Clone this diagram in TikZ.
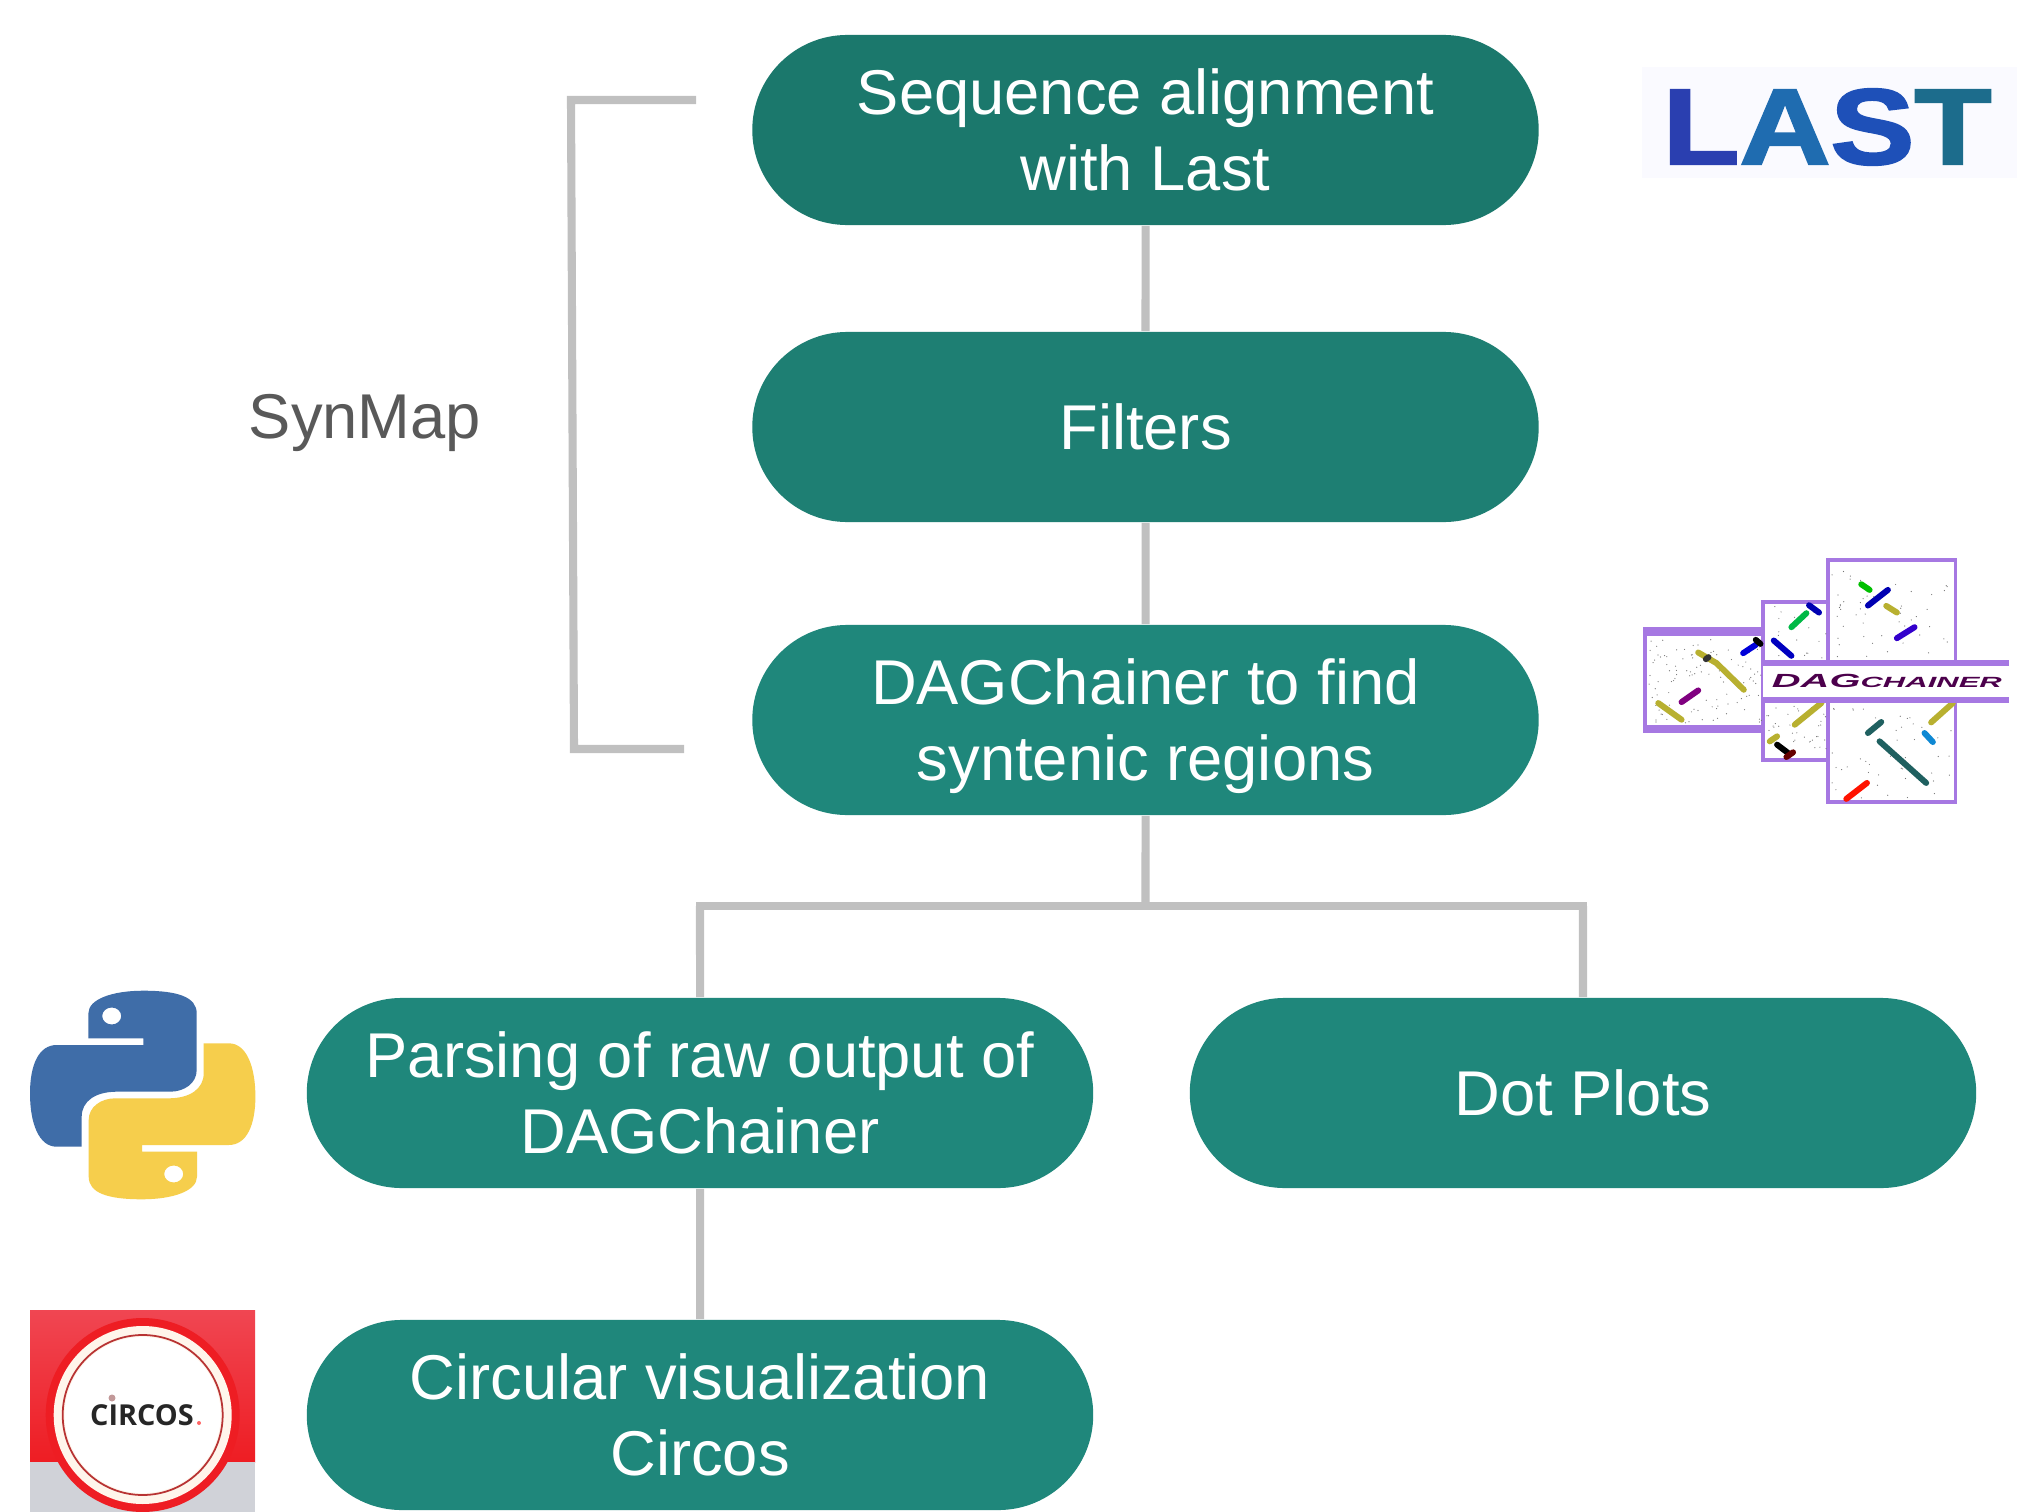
\documentclass[tikz,border=0pt]{standalone}
\usepackage{fontspec}
\setmainfont{Liberation Sans}
\newfontfamily\circosfont{Open Sans}
\newfontfamily\lastfont{Liberation Sans}[BoldFeatures={FakeBold=2}]
\usetikzlibrary{shapes.misc}
\definecolor{boxa}{HTML}{1B786C}
\definecolor{boxb}{HTML}{1E7F73}
\definecolor{boxc}{HTML}{1F877B}
\definecolor{linkgray}{HTML}{C0C0C0}
\definecolor{labelgray}{HTML}{595959}
\definecolor{dagframe}{HTML}{A678E2}
\definecolor{dagolive}{HTML}{B8B030}
\definecolor{dagteal}{HTML}{1F6060}
\definecolor{pyblue}{HTML}{3F6DA8}
\definecolor{pyyellow}{HTML}{F6CE4C}
\definecolor{circred}{HTML}{EE1D23}
\definecolor{circtop}{HTML}{F04652}
\definecolor{circgray}{HTML}{D0D2D8}
\tikzset{stepbox/.style={rounded rectangle,fill=#1,text=white,minimum width=7.86cm,minimum height=1.9cm,inner sep=0pt,align=center,font=\fontsize{18}{21.6}\selectfont}}
\tikzset{link/.style={draw=linkgray,line width=2.3pt}}
\tikzset{dagbox/.style={fill=white,draw=dagframe,line width=1.1pt}}
\tikzset{dagband/.style={fill=dagframe}}
\tikzset{dagdash/.style={line width=1.7pt,line cap=round}}
\begin{document}
\begin{tikzpicture}[x=.01cm,y=-.01cm]
      \useasboundingbox[fill=white] (0,0) rectangle (2017,1512);
      \node[stepbox=boxa] (last) at (1145.5,130) {Sequence alignment\\with Last};
      \node[stepbox=boxb] (filters) at (1145.5,427) {Filters};
      \node[stepbox=boxc] (dag) at (1145.5,720) {DAGChainer to find\\\raisebox{0pt}[\height][0pt]{syntenic regions}};
      \node[stepbox=boxc] (parse) at (700,1093) {Parsing of raw output of\\DAGChainer};
      \node[stepbox=boxc] (dots) at (1583,1093) {Dot Plots};
      \node[stepbox=boxc] (circ) at (700,1415) {Circular visualization\\Circos};
      \node[text=labelgray,text depth=0pt,font=\fontsize{18}{21.6}\selectfont] (synmap) at (365,416) {SynMap};
      \coordinate (fork) at (1145.5,906);
      \coordinate (forkl) at (700,906);
      \coordinate (forkr) at (1583,906);
      \coordinate (bra) at (696,100);
      \coordinate (brb) at (571,100);
      \coordinate (brc) at (574,749);
      \coordinate (brd) at (684,749);
      \draw[link] (last) -- (filters);
      \draw[link] (filters) -- (dag);
      \draw[link] (dag) -- (fork);
      \draw[link,line cap=rect] (forkl) -- (forkr);
      \draw[link] (forkl) -- (parse);
      \draw[link] (forkr) -- (dots);
      \draw[link] (parse) -- (circ);
      \draw[link] (bra) -- (brb) -- (brc) -- (brd);
      % LAST logo
      \fill[blue!2] (1642,67) rectangle (2017,178);
      \node[inner sep=0pt,font=\fontsize{30.6}{32}\selectfont\lastfont\bfseries] (lastlogo) at (1827,127)
        {\scalebox{1.17}[1]{\textcolor[HTML]{2A3FB0}{L}\textcolor[HTML]{1F6CB0}{A}\textcolor[HTML]{1E50B8}{S}\textcolor[HTML]{1C6C8C}{T}}};
      % DAGchainer logo
      \begin{scope}[shift={(1620,540)},x=.003333cm,y=-.003333cm]
        \draw[dagbox] (625,60) rectangle (1008,788);
        \draw[dagbox] (430,187) rectangle (625,660);
        \draw[dagbox] (75,268) rectangle (430,575);
        \pgfmathsetseed{42}
        \foreach \xa/\xb/\ya/\yb/\n in {85/425/295/550/110,440/620/200/355/18,440/620/495/650/40,635/1000/70/355/50,635/1000/495/780/45} {
          \foreach \i in {1,...,\n} {
            \pgfmathsetmacro\px{\xa+(\xb-\xa)*rnd}
            \pgfmathsetmacro\py{\ya+(\yb-\ya)*rnd}
            \fill[black!55] (\px,\py) circle (1.8);
          }
        }
        \foreach \col/\ax/\ay/\bx/\by in {green!75!black/725/133/750/150, blue!70!black/745/197/805/150, dagolive/800/198/832/218,
          blue!60!violet/832/295/885/262, blue!70!black/568/196/598/218, green!45!teal/515/262/560/220, blue!75!black/462/302/515/348,
          blue!85!black/370/340/408/315, black/408/300/422/312, violet/185/487/235/452, dagolive/115/490/185/540, dagolive/525/555/605/490,
          dagolive/450/605/472/590, black/472/615/505/640, red!40!black/500/652/520/638, dagteal/745/580/785/547, cyan!70!blue/915/580/940/607,
          dagolive/935/548/1000/490, dagteal/780/605/920/730, red!85!orange/680/778/742/730} {
          \draw[dagdash,\col] (\ax,\ay) -- (\bx,\by);
        }
        \draw[dagdash,dagolive] (235,338) -- (290,370) -- (372,450);
        \draw[dagdash,black!80] (258,358) -- (266,352);
        \fill[dagband] (75,268) rectangle (430,288);
        \fill[dagband] (75,555) rectangle (430,575);
        \fill[white] (430,360) rectangle (1170,490);
        \fill[dagband] (430,360) rectangle (1170,378);
        \fill[dagband] (430,472) rectangle (1170,490);
        \node[inner sep=0pt,text=violet!60!black,font=\fontsize{5.4}{7}\selectfont\bfseries\itshape] (daglogo) at (802,425)
          {\scalebox{2.1}[1]{DAG{\fontsize{4.2}{6}\selectfont CHAINER}}};
      \end{scope}
      % python logo
      \foreach \ang/\col in {0/pyblue,180/pyyellow} {
        \begin{scope}[shift={(142.7,1095)},rotate=\ang]
          \fill[\col,even odd rule] (-54.3,-81.7) .. controls (-54.3,-96) and (-30,-104.3) .. (.7,-104.3)
            .. controls (35,-104.3) and (54,-98) .. (54,-81.7) -- (54,-25)
            .. controls (54,-12) and (42,-3.3) .. (27.3,-3.3) -- (-26,-3.3)
            .. controls (-47,-3.3) and (-61,6) .. (-61,21.7) -- (-61,51.7) -- (-86,51.7)
            .. controls (-104,51.7) and (-112.7,28) .. (-112.7,-1.7)
            .. controls (-112.7,-30) and (-104,-50) .. (-86,-50) -- (.7,-50) -- (.7,-56.7) -- (-54.3,-56.7) -- cycle
            (-31,-79) ellipse (9.5 and 8.5);
        \end{scope}
      }
      % circos logo
      \fill[top color=circtop,bottom color=circred] (30,1310) rectangle (255,1462);
      \fill[circgray] (30,1462) rectangle (255,1512);
      \fill[circred] (142.7,1415) circle (97);
      \fill[white!92!orange] (142.7,1415) circle (89);
      \draw[red!65!black!80,line width=.5pt] (142.7,1415) circle (80);
      \fill[white] (142.7,1415) circle (78);
      \node[inner sep=0pt,font=\fontsize{8.2}{10}\selectfont\circosfont\bfseries,text=black!85] (circoslogo) at (142,1415) {CIRCOS};
      \fill[red!40!black!40] (112,1398) circle (3.5);
      \fill[red!60!white] (199,1423) circle (2);
    \end{tikzpicture}
\end{document}
